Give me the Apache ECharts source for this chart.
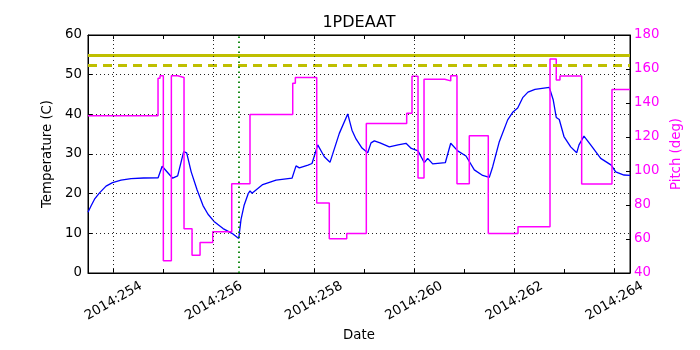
<!DOCTYPE html>
<html><head><meta charset="utf-8">
<script src="https://cdn.jsdelivr.net/npm/echarts@6/dist/echarts.min.js"></script>
<style>html,body{margin:0;padding:0;background:#fff}#c{width:700px;height:350px}</style>
</head><body><div id="c"></div>
<script>
// Temperature (C) vs day-of-year 2014
const tempDays = [253.49,253.55,253.62,253.72,253.85,253.98,254.15,254.35,254.60,254.89,254.97,255.18,255.28,255.40,255.46,255.55,
255.667,255.786,255.886,256.006,256.186,256.365,256.499,256.545,256.605,256.691,256.725,256.764,256.978,257.244,257.563,257.643,257.709,257.882,257.962,
258.076,258.208,258.321,258.507,258.675,258.760,258.840,258.960,259.074,259.14,259.206,259.32,259.505,259.68,259.838,259.944,
260.078,260.204,260.271,260.371,260.623,260.731,260.870,261.036,261.202,261.369,261.501,261.569,261.701,261.868,261.974,262.068,262.168,262.273,262.413,
262.699,262.778,262.838,262.898,262.992,263.126,263.246,263.292,263.391,263.525,263.725,263.936,264.024,264.190,264.31];
const tempVals = [15.3,16.9,18.6,20.2,21.9,22.8,23.4,23.8,23.95,24.0,26.9,23.9,24.5,30.6,30.3,25.5,
21.0,17.0,14.8,13.0,11.2,10.0,8.7,13.5,17.0,20.1,20.7,20.1,22.3,23.4,23.9,27.0,26.5,27.2,27.6,
32.3,29.3,27.9,35.2,40.1,36.0,33.8,31.5,30.3,32.8,33.3,32.8,31.8,32.3,32.7,31.4,
30.8,27.8,28.9,27.5,27.8,32.7,30.8,29.5,26.0,24.6,24.1,26.8,33.1,38.6,40.6,41.6,44.2,45.6,46.3,
46.8,43.6,39.2,38.7,34.4,31.8,30.3,32.3,34.5,32.3,28.9,27.2,25.5,24.7,24.6];
// Pitch (deg): step changes (day, new value)
const pitchDays = [253.49,254.888,254.928,254.994,255.154,255.281,255.407,255.567,255.727,255.98,256.359,256.724,257.577,257.629,258.056,258.307,258.655,259.046,259.852,259.958,260.078,260.198,260.611,260.731,260.856,261.102,261.481,262.074,262.713,262.838,262.912,263.345,263.95,264.31];
const pitchVals = [132.5,154.5,156,47.2,156,155,66,50.4,58,64.3,92.5,133.3,151.6,155,81.2,60.2,63.3,128,134,155.7,95.9,154,153,156,92.5,120.8,63.3,67.2,165.9,153.5,155.9,92.4,148,148];
const planningLimit = 55.0;
const cautionLimit = 52.5;
const markerDay = 256.505;
const xMin = 253.49, xMax = 264.31;
const dayTicks = [254,255,256,257,258,259,260,261,262,263,264];
const dayLabels = [254,256,258,260,262,264];
const tempTicks = [0,60,10];
const pitchTicks = [40,180,20];

const FONT = 'DejaVu Sans';
const chart = echarts.init(document.getElementById('c'), null, {renderer:'canvas'});
const fmtDay = v => '2014:' + Math.round(v);
chart.setOption({
  animation:false,
  backgroundColor:'#fff',
  title:{text:'1PDEAAT', left:359, top:15, textAlign:'center', padding:0,
    textStyle:{fontFamily:FONT, fontSize:16, fontWeight:'normal', color:'#000'}},
  grid:{left:88, right:70, top:35, bottom:77, show:true, borderColor:'#000', borderWidth:1, backgroundColor:'transparent'},
  xAxis:[{
    type:'value', min:xMin, max:xMax, position:'bottom',
    name:'Date', nameLocation:'middle', nameGap:50,
    nameTextStyle:{fontFamily:FONT, fontSize:13.3, color:'#000'},
    axisLine:{show:true, onZero:false, lineStyle:{color:'#000', width:1}},
    axisTick:{show:true, inside:true, length:4, customValues:dayTicks, lineStyle:{color:'#000'}},
    axisLabel:{show:true, customValues:dayLabels, formatter:fmtDay, rotate:30, align:'center', verticalAlign:'middle', margin:28,
      fontFamily:FONT, fontSize:13.3, color:'#000'},
    splitLine:{show:false}
  },{
    type:'value', min:xMin, max:xMax, position:'top',
    axisLine:{show:true, onZero:false, lineStyle:{color:'#000', width:1}},
    axisTick:{show:true, inside:true, length:4, customValues:dayTicks, lineStyle:{color:'#000'}},
    axisLabel:{show:false}, splitLine:{show:false}
  }],
  yAxis:[{
    type:'value', min:tempTicks[0], max:tempTicks[1], interval:tempTicks[2], position:'left',
    name:'Temperature (C)', nameLocation:'middle', nameGap:30, nameRotate:90,
    nameTextStyle:{fontFamily:FONT, fontSize:13.3, color:'#000'},
    axisLine:{show:true, onZero:false, lineStyle:{color:'#000'}},
    axisTick:{show:true, inside:true, length:4, lineStyle:{color:'#000'}},
    axisLabel:{margin:6, fontFamily:FONT, fontSize:13.3, color:'#000'},
    splitLine:{show:true, lineStyle:{color:'#222', width:1, type:[1,3]}}
  },{
    type:'value', min:pitchTicks[0], max:pitchTicks[1], interval:pitchTicks[2], position:'right',
    name:'Pitch (deg)', nameLocation:'middle', nameGap:37, nameRotate:90,
    nameTextStyle:{fontFamily:FONT, fontSize:13.3, color:'#ff00ff'},
    axisLine:{show:true, onZero:false, lineStyle:{color:'#000'}},
    axisTick:{show:true, inside:true, length:4, lineStyle:{color:'#000'}},
    axisLabel:{margin:4, fontFamily:FONT, fontSize:13.3, color:'#ff00ff'},
    splitLine:{show:false}
  }],
  series:[{
    type:'line', xAxisIndex:0, yAxisIndex:0, showSymbol:false, symbol:'none',
    data: tempDays.map((d,i)=>[d, tempVals[i]]),
    lineStyle:{color:'#0000ff', width:1.3}, smooth:false, z:3,
    markLine:{silent:true, symbol:'none', label:{show:false}, animation:false,
      data:[
        {yAxis:planningLimit, lineStyle:{color:'#bfbf00', width:3, type:'solid'}},
        {yAxis:cautionLimit, lineStyle:{color:'#bfbf00', width:3, type:[9,6]}},
        {xAxis:markerDay, lineStyle:{color:'#008000', width:1.8, type:[1.5,3.5]}},
        ...dayLabels.map(d=>({xAxis:d, lineStyle:{color:'#222', width:1, type:[1,3]}}))
      ]}
  },{
    type:'line', xAxisIndex:0, yAxisIndex:1, showSymbol:false, symbol:'none', step:'end',
    data: pitchDays.map((d,i)=>[d, pitchVals[i]]),
    lineStyle:{color:'#ff00ff', width:1.5}, z:4
  }]
});
</script></body></html>
